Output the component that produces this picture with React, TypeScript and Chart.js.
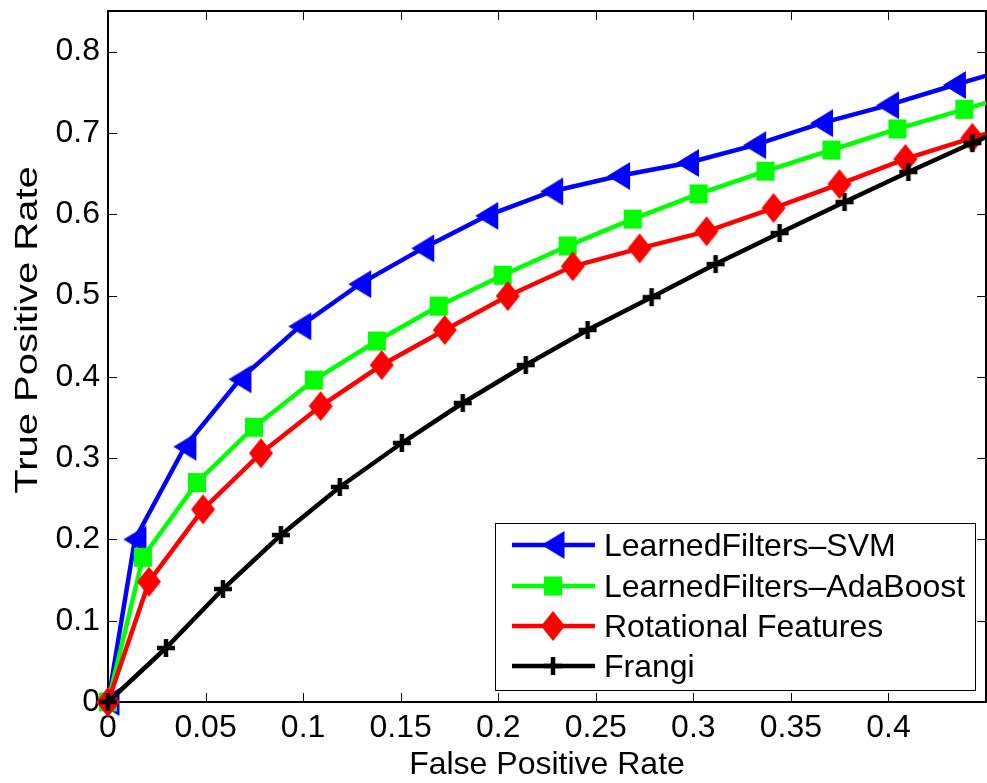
import React, { useEffect, useRef } from "react";
import { Chart, registerables } from "chart.js";
Chart.register(...registerables);

const FONT = "'Liberation Sans', Arial, Helvetica, sans-serif";

const seriesLabels = [
  "LearnedFilters–SVM",
  "LearnedFilters–AdaBoost",
  "Rotational Features",
  "Frangi",
];
const seriesColors = ["#0000ff", "#00ff00", "#ff0000", "#000000"];

const svmFPR = [0, 0.0138, 0.0394, 0.0676, 0.0983, 0.129, 0.1613, 0.1941, 0.2274, 0.2617, 0.297, 0.3314, 0.3657, 0.3995, 0.4338, 0.468];
const svmTPR = [0, 0.2, 0.314, 0.397, 0.462, 0.514, 0.558, 0.598, 0.628, 0.647, 0.663, 0.685, 0.712, 0.734, 0.759, 0.783];

const adaFPR = [0, 0.0179, 0.0456, 0.0748, 0.1055, 0.1378, 0.1695, 0.2023, 0.2356, 0.2689, 0.3027, 0.337, 0.3708, 0.4046, 0.4389, 0.473];
const adaTPR = [0, 0.178, 0.27, 0.338, 0.396, 0.444, 0.487, 0.525, 0.561, 0.594, 0.625, 0.653, 0.679, 0.705, 0.729, 0.754];

const rotFPR = [0, 0.021, 0.0487, 0.0784, 0.109, 0.1403, 0.1726, 0.2049, 0.2382, 0.2725, 0.3068, 0.3411, 0.3749, 0.4087, 0.443, 0.477];
const rotTPR = [0, 0.148, 0.237, 0.306, 0.364, 0.4145, 0.4576, 0.4994, 0.536, 0.558, 0.579, 0.6076, 0.637, 0.668, 0.694, 0.718];

const frangiFPR = [0, 0.0297, 0.0589, 0.0886, 0.1188, 0.1506, 0.1818, 0.2141, 0.2458, 0.2786, 0.3114, 0.3442, 0.3775, 0.4102, 0.443, 0.476];
const frangiTPR = [0, 0.0664, 0.139, 0.2054, 0.2645, 0.3186, 0.3678, 0.4145, 0.4576, 0.498, 0.5387, 0.5769, 0.615, 0.652, 0.6876, 0.723];

const xTicks = [0, 0.05, 0.1, 0.15, 0.2, 0.25, 0.3, 0.35, 0.4];
const xTickLabels = ["0", "0.05", "0.1", "0.15", "0.2", "0.25", "0.3", "0.35", "0.4"];
const yTicks = [0, 0.1, 0.2, 0.3, 0.4, 0.5, 0.6, 0.7, 0.8];
const yTickLabels = ["0", "0.1", "0.2", "0.3", "0.4", "0.5", "0.6", "0.7", "0.8"];

const xTitle = "False Positive Rate";
const yTitle = "True Positive Rate";

function makeMarker(kind: string, color: string): HTMLCanvasElement {
  const c = document.createElement("canvas");
  let w = 18, h = 18;
  if (kind === "tri") { w = 23; h = 28; }
  if (kind === "sq") { w = 18; h = 19; }
  if (kind === "dia") { w = 24; h = 30; }
  if (kind === "plus") { w = 18; h = 18; }
  c.width = w + 2; c.height = h + 2;
  const g = c.getContext("2d")!;
  g.fillStyle = color;
  g.translate(1, 1);
  g.beginPath();
  if (kind === "tri") {
    g.moveTo(0, h / 2); g.lineTo(w, 0); g.lineTo(w, h); g.closePath(); g.fill();
  } else if (kind === "sq") {
    g.fillRect(0, 0, w, h);
  } else if (kind === "dia") {
    g.moveTo(w / 2, 0); g.lineTo(w, h / 2); g.lineTo(w / 2, h); g.lineTo(0, h / 2); g.closePath(); g.fill();
  } else {
    const t = 4.5;
    g.fillRect(0, h / 2 - t / 2, w, t);
    g.fillRect(w / 2 - t / 2, 0, t, h);
  }
  return c;
}

function zeroPad(s: any) {
  s.paddingTop = 0; s.paddingBottom = 0; s.paddingLeft = 0; s.paddingRight = 0;
}

export default function App() {
  const ref = useRef<HTMLCanvasElement | null>(null);
  useEffect(() => {
    document.body.style.margin = "0";
    const markers = [
      makeMarker("tri", seriesColors[0]),
      makeMarker("sq", seriesColors[1]),
      makeMarker("dia", seriesColors[2]),
      makeMarker("plus", seriesColors[3]),
    ];
    const xs = [svmFPR, adaFPR, rotFPR, frangiFPR];
    const ys = [svmTPR, adaTPR, rotTPR, frangiTPR];

    const framePlugin = {
      id: "frame",
      beforeDatasetsDraw(chart: any) {
        const { ctx, chartArea: a, scales } = chart;
        ctx.save();
        ctx.strokeStyle = "#000";
        ctx.lineWidth = 1;
        ctx.beginPath();
        xTicks.forEach((v) => {
          const px = Math.round(scales.x.getPixelForValue(v)) + 0.5;
          ctx.moveTo(px, a.bottom); ctx.lineTo(px, a.bottom - 9);
          ctx.moveTo(px, a.top); ctx.lineTo(px, a.top + 9);
        });
        yTicks.forEach((v) => {
          const py = Math.round(scales.y.getPixelForValue(v)) + 0.5;
          ctx.moveTo(a.left, py); ctx.lineTo(a.left + 9, py);
          ctx.moveTo(a.right, py); ctx.lineTo(a.right - 9, py);
        });
        ctx.stroke();
        ctx.lineWidth = 2;
        ctx.strokeRect(a.left, a.top, a.right - a.left, a.bottom - a.top);

        ctx.fillStyle = "#000";
        ctx.font = `32px ${FONT}`;
        ctx.textAlign = "center";
        ctx.textBaseline = "alphabetic";
        ctx.fillText(xTitle, (a.left + a.right) / 2, 774);
        ctx.save();
        ctx.translate(37, 330);
        ctx.rotate(-Math.PI / 2);
        ctx.scale(1.25, 1);
        ctx.fillText(yTitle, 0, 0);
        ctx.restore();
        ctx.restore();
      },
      afterDatasetsDraw(chart: any) {
        const { ctx } = chart;
        ctx.save();
        ctx.fillStyle = "#fff";
        ctx.fillRect(495, 523, 480, 167);
        ctx.strokeStyle = "#000";
        ctx.lineWidth = 1;
        ctx.strokeRect(495.5, 523.5, 480, 167);
        const rows = [545, 586, 626, 666];
        chart.data.datasets.forEach((ds: any, i: number) => {
          const cy = rows[i];
          ctx.strokeStyle = ds.borderColor;
          ctx.lineWidth = ds.borderWidth;
          ctx.beginPath();
          ctx.moveTo(512, cy); ctx.lineTo(595, cy);
          ctx.stroke();
          const m = ds.pointStyle as HTMLCanvasElement;
          ctx.drawImage(m, 553 - m.width / 2, cy - m.height / 2);
          ctx.fillStyle = "#000";
          ctx.font = `32px ${FONT}`;
          ctx.textAlign = "left";
          ctx.textBaseline = "alphabetic";
          ctx.fillText(ds.label, 604, cy + 11);
        });
        ctx.restore();
      },
    };

    const chart = new Chart(ref.current!, {
      type: "scatter",
      data: {
        datasets: seriesLabels.map((label, i) => ({
          label,
          data: xs[i].map((x, j) => ({ x, y: ys[i][j] })),
          showLine: true,
          borderColor: seriesColors[i],
          backgroundColor: seriesColors[i],
          borderWidth: 4.5,
          tension: 0,
          pointStyle: markers[i] as any,
          pointRadius: 10,
          pointHoverRadius: 10,
          order: 3 - i,
          clip: { left: 30, top: 0, right: 0, bottom: 30 } as any,
        })),
      },
      options: {
        animation: false,
        responsive: false,
        events: [],
        layout: { autoPadding: false, padding: { top: 11, right: 1, left: 0, bottom: 0 } },
        plugins: { legend: { display: false }, tooltip: { enabled: false } },
        scales: {
          x: {
            type: "linear",
            min: 0,
            max: 0.45,
            grid: { display: false, drawTicks: false },
            border: { display: false },
            afterBuildTicks: (s: any) => { s.ticks = xTicks.map((v) => ({ value: v })); },
            afterFit: (s: any) => { s.height = 81; zeroPad(s); },
            ticks: {
              autoSkip: false,
              maxRotation: 0,
              padding: 10,
              color: "#000",
              font: { family: FONT, size: 32, lineHeight: 1 },
              callback: (_v: any, i: number) => xTickLabels[i],
            },
          },
          y: {
            type: "linear",
            min: 0,
            max: 0.85,
            grid: { display: false, drawTicks: false },
            border: { display: false },
            afterBuildTicks: (s: any) => { s.ticks = yTicks.map((v) => ({ value: v })); },
            afterFit: (s: any) => { s.width = 108; zeroPad(s); },
            ticks: {
              autoSkip: false,
              padding: 8,
              color: "#000",
              font: { family: FONT, size: 32, lineHeight: 1 },
              callback: (_v: any, i: number) => yTickLabels[i],
            },
          },
        },
      } as any,
      plugins: [framePlugin],
    });
    return () => chart.destroy();
  }, []);
  return <canvas ref={ref} width={987} height={783} style={{ display: "block" }} />;
}
